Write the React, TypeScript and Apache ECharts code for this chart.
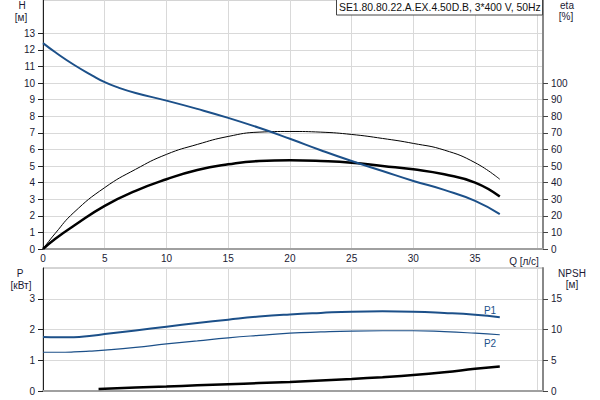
import React, { useEffect, useRef } from "react";
import * as echarts from "echarts";

// ---- data ----
const TITLE = "SE1.80.80.22.A.EX.4.50D.B, 3*400 V, 50Hz";
const qHead = [0, 1, 2.5, 4, 5, 6, 7.5, 10, 12.5, 15, 17.5, 20, 22.5, 25, 27.5, 30, 32.5, 35, 37];
const headH = [12.4, 11.85, 11.1, 10.45, 10.05, 9.75, 9.4, 8.94, 8.44, 7.9, 7.3, 6.64, 5.95, 5.3, 4.7, 4.1, 3.56, 2.9, 2.1];
const qEta = [0, 1, 2.5, 5, 7.5, 10, 12.5, 15, 17.5, 20, 22.5, 25, 27.5, 30, 32.5, 35, 37];
const etaPump = [0, 9.5, 22, 37, 48, 57, 63, 67.8, 70.4, 70.8, 70.4, 69, 66.6, 63.6, 59.6, 52, 42];
const etaTotal = [0, 6.2, 14, 26, 35, 42, 47.6, 51, 53, 53.4, 53, 52, 50, 48, 45, 40, 31.6];
const qPower = [0, 1.25, 2.5, 3.75, 5, 7.5, 10, 12.5, 15, 17.5, 20, 22.5, 25, 27.5, 30, 32.5, 35, 37];
const powerP1 = [1.76, 1.745, 1.75, 1.79, 1.85, 1.97, 2.09, 2.21, 2.32, 2.42, 2.49, 2.54, 2.58, 2.59, 2.58, 2.54, 2.48, 2.4];
const powerP2 = [1.26, 1.26, 1.27, 1.295, 1.33, 1.42, 1.53, 1.63, 1.73, 1.81, 1.88, 1.92, 1.95, 1.96, 1.96, 1.93, 1.88, 1.83];
const qNpsh = [4.5, 7.5, 10, 12.5, 15, 17.5, 20, 22.5, 25, 27.5, 30, 32.5, 35, 37];
const npsh = [0.33, 0.55, 0.73, 0.92, 1.1, 1.29, 1.47, 1.7, 1.96, 2.25, 2.6, 3.05, 3.6, 4.0];

const qTickLabels = [0, 5, 10, 15, 20, 25, 30, 35];
const hTickLabels = [0, 1, 2, 3, 4, 5, 6, 7, 8, 9, 10, 11, 12, 13];
const etaTickLabels = [0, 10, 20, 30, 40, 50, 60, 70, 80, 90, 100];
const pTickLabels = [0, 1, 2, 3];
const npshTickLabels = [0, 5, 10, 15];

const zip = (xs: number[], ys: number[]) => xs.map((x, i) => [x, ys[i]]);

const FONT = "Liberation Sans, Arial, sans-serif";
const LABEL_COLOR = "#1a1a33";
const BLUE = "#1c5089";
const GRID_COLOR = "#d9d9d9";

export default function App() {
  const ref = useRef<HTMLDivElement>(null);

  useEffect(() => {
    if (!ref.current) return;
    const chart = echarts.init(ref.current, null, { renderer: "svg" });

    const labelStyle = (vals: number[], margin = 8) => ({
      customValues: vals,
      color: LABEL_COLOR,
      fontSize: 10,
      fontFamily: FONT,
      margin,
    });
    const tickStyle = (vals: number[], color: string) => ({
      show: true,
      customValues: vals,
      length: 5,
      lineStyle: { color, width: 1 },
    });
    const split = { show: true, lineStyle: { color: GRID_COLOR, width: 1 } };

    const text = (x: number, y: number, t: string, color = LABEL_COLOR, align = "center", size = 10) => ({
      type: "text",
      x,
      y,
      style: { text: t, fill: color, font: `${size}px ${FONT}`, textAlign: align, textVerticalAlign: "middle" },
      z: 100,
    });

    const line = (name: string, xi: number, yi: number, xs: number[], ys: number[], color: string, width: number) => ({
      name, type: "line", xAxisIndex: xi, yAxisIndex: yi, smooth: 0.5, showSymbol: false,
      data: zip(xs, ys), lineStyle: { color, width }, itemStyle: { color },
    });

    chart.setOption({
      animation: false,
      backgroundColor: "#ffffff",
      grid: [
        { left: 43, top: 0, width: 500, height: 249, show: true, borderColor: "#aaaaaa", borderWidth: 1, outerBoundsMode: "none" },
        { left: 43, top: 268, width: 500, height: 123, show: true, borderColor: "#aaaaaa", borderWidth: 1, outerBoundsMode: "none" },
      ],
      xAxis: [
        {
          type: "value", gridIndex: 0, min: 0, max: 40.5, interval: 5,
          axisLine: { show: true, onZero: false, lineStyle: { color: "#a0a0a0", width: 2 } },
          axisTick: { show: false },
          axisLabel: labelStyle(qTickLabels, 4),
          splitLine: split,
        },
        {
          type: "value", gridIndex: 1, min: 0, max: 40.5, interval: 5,
          axisLine: { show: true, onZero: false, lineStyle: { color: "#a0a0a0", width: 2 } },
          axisTick: { show: false },
          axisLabel: { show: false },
          splitLine: split,
        },
      ],
      yAxis: [
        {
          type: "value", gridIndex: 0, position: "left", min: 0, max: 15, interval: 1,
          axisLine: { show: true, lineStyle: { color: "#222222", width: 1 } },
          axisTick: tickStyle(hTickLabels, "#222222"),
          axisLabel: labelStyle(hTickLabels),
          splitLine: split,
        },
        {
          type: "value", gridIndex: 0, position: "right", min: 0, max: 150, interval: 10,
          axisLine: { show: true, lineStyle: { color: "#888888", width: 2 } },
          axisTick: tickStyle(etaTickLabels, "#444444"),
          axisLabel: labelStyle(etaTickLabels),
          splitLine: { show: false },
        },
        {
          type: "value", gridIndex: 1, position: "left", min: 0, max: 4, interval: 1,
          axisLine: { show: true, lineStyle: { color: "#222222", width: 1 } },
          axisTick: tickStyle(pTickLabels, "#222222"),
          axisLabel: labelStyle(pTickLabels),
          splitLine: split,
        },
        {
          type: "value", gridIndex: 1, position: "right", min: 0, max: 20, interval: 5,
          axisLine: { show: true, lineStyle: { color: "#888888", width: 2 } },
          axisTick: tickStyle(npshTickLabels, "#444444"),
          axisLabel: labelStyle(npshTickLabels),
          splitLine: { show: false },
        },
      ],
      series: [
        line("eta pump", 0, 1, qEta, etaPump, "#000000", 1),
        line("eta total", 0, 1, qEta, etaTotal, "#000000", 2.5),
        line("H", 0, 0, qHead, headH, BLUE, 2),
        line("P1", 1, 2, qPower, powerP1, BLUE, 2),
        line("P2", 1, 2, qPower, powerP2, BLUE, 1.2),
        line("NPSH", 1, 3, qNpsh, npsh, "#000000", 2.5),
      ],
      graphic: [
        {
          type: "rect", shape: { x: 336.5, y: -1, width: 206, height: 16 },
          style: { fill: "#ffffff", stroke: "#444444", lineWidth: 1 }, z: 99,
        },
        text(339, 7.5, TITLE, "#111111", "left", 10.4),
        text(22, 5, "H"),
        text(21, 17, "[м]"),
        text(567, 5, "eta"),
        text(566, 16, "[%]"),
        text(524, 261, "Q [л/с]"),
        text(20, 273, "P"),
        text(21, 285, "[кВт]"),
        text(572, 273, "NPSH"),
        text(572, 284, "[м]"),
        text(490, 310, "P1", BLUE),
        text(490, 343, "P2", BLUE),
      ],
    });

    return () => chart.dispose();
  }, []);

  return <div ref={ref} style={{ width: 600, height: 400, position: "absolute", left: 0, top: 0 }} />;
}
